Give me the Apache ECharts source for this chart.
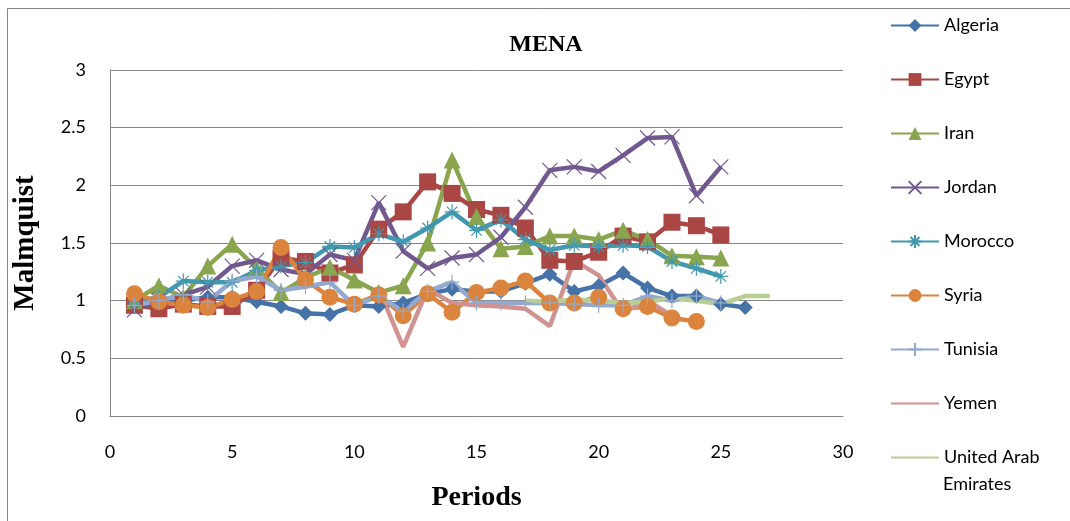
<!DOCTYPE html>
<html lang="en">
<head>
    <meta charset="UTF-8">
    <title>MENA</title>
    <script src="https://cdn.jsdelivr.net/npm/echarts@6/dist/echarts.min.js"></script>
    <style>
        body { padding: 0; margin: 0; background: #fff; }
        #chart { width: 1070px; height: 521px; }
    </style>
</head>
<body>
    <div id="chart"></div>

    <script>
        // periods 1..27, null = no observation
        const periods = [1,2,3,4,5,6,7,8,9,10,11,12,13,14,15,16,17,18,19,20,21,22,23,24,25,26,27];
        const algeria = [0.98,0.97,1.0,1.03,1.03,0.99,0.95,0.89,0.88,0.96,0.95,0.98,1.06,1.1,1.08,1.08,1.15,1.23,1.08,1.13,1.24,1.11,1.04,1.04,0.97,0.94,null];
        const egypt   = [0.96,0.93,0.97,0.95,0.95,1.09,1.37,1.34,1.24,1.31,1.62,1.77,2.03,1.93,1.79,1.74,1.63,1.35,1.34,1.42,1.56,1.51,1.68,1.65,1.57,null,null];
        const iran    = [1.0,1.13,1.03,1.3,1.49,1.28,1.07,1.2,1.29,1.18,1.07,1.13,1.5,2.22,1.73,1.45,1.47,1.56,1.56,1.53,1.61,1.53,1.39,1.38,1.37,null,null];
        const jordan  = [0.92,1.0,1.05,1.12,1.3,1.35,1.27,1.23,1.4,1.35,1.85,1.43,1.28,1.37,1.4,1.55,1.81,2.13,2.16,2.12,2.26,2.41,2.42,1.91,2.16,null,null];
        const morocco = [0.99,1.03,1.17,1.16,1.16,1.26,1.3,1.33,1.47,1.46,1.58,1.51,1.63,1.77,1.61,1.7,1.53,1.44,1.48,1.47,1.48,1.47,1.34,1.28,1.21,null,null];
        const syria   = [1.06,0.99,0.96,0.94,1.01,1.08,1.46,1.18,1.03,0.97,1.05,0.87,1.06,0.9,1.07,1.11,1.17,0.98,0.98,1.03,0.93,0.95,0.85,0.82,null,null,null];
        const tunisia = [0.96,1.0,1.05,0.99,1.17,1.21,1.09,1.12,1.16,0.96,1.04,0.91,1.08,1.16,0.98,0.98,0.98,0.98,0.97,0.96,0.96,1.04,1.0,1.04,0.98,null,null];
        const yemen   = [null,null,null,null,null,null,null,null,null,null,1.1,0.6,1.1,0.98,0.96,0.95,0.93,0.78,1.35,1.22,0.9,1.0,0.87,null,null,null,null];
        const uae     = [null,null,null,null,null,null,null,null,null,null,null,null,null,null,null,null,1.0,0.99,1.01,1.0,0.98,0.99,1.02,1.0,0.97,1.04,1.04];

        const xTicks = [0, 5, 10, 15, 20, 25, 30];
        const yTicks = [0, 0.5, 1, 1.5, 2, 2.5, 3];

        const X_PATH = 'path://M0,0 L10,10 M10,0 L0,10';
        const STAR_PATH = 'path://M5,0 L5,10 M0,5 L10,5 M1.5,1.5 L8.5,8.5 M8.5,1.5 L1.5,8.5';
        const PLUS_PATH = 'path://M5,0 L5,10 M0,5 L10,5';
        const NO_MARK = 'path://M0,0 L0,10 M10,0 L10,10'; // zero-area path, nothing visible

        function pairs(vals) {
            return periods.map((p, i) => [p, vals[i]]).filter(d => d[1] !== null);
        }

        function makeSeries(name, vals, color, symbol, size, stroked) {
            const noMark = symbol === NO_MARK;
            return {
                name: name,
                type: 'line',
                data: pairs(vals),
                symbol: symbol,
                symbolSize: size,
                showSymbol: !noMark,
                lineStyle: { color: color, width: 4.5 },
                itemStyle: stroked
                    ? { color: color, borderColor: color, borderWidth: 1.2 }
                    : { color: color, borderWidth: 0 },
                emphasis: { disabled: true }
            };
        }

        const chart = echarts.init(document.getElementById('chart'));
        chart.setOption({
            animation: false,
            backgroundColor: '#fff',
            title: {
                text: 'MENA',
                left: 541, top: 28, textAlign: 'center',
                textStyle: { fontFamily: 'Liberation Serif', fontWeight: 'bold', fontSize: 24, color: '#000' }
            },
            graphic: [{
                type: 'rect',
                shape: { x: 7.5, y: 8.5, width: 1080, height: 530 },
                style: { fill: 'none', stroke: '#868686', lineWidth: 1 },
                silent: true
            }, {
                type: 'text',
                left: 943, top: 475,
                style: { text: 'Emirates', fontFamily: 'Lato', fontSize: 18, fill: '#000' },
                silent: true
            }],
            legend: {
                orient: 'vertical',
                left: 890, top: 12, padding: 0,
                itemWidth: 48, itemHeight: 16, itemGap: 27,
                textStyle: { fontFamily: 'Lato', fontSize: 18, color: '#000', lineHeight: 27 },
                data: ['Algeria', 'Egypt', 'Iran', 'Jordan', 'Morocco', 'Syria', 'Tunisia', 'Yemen', 'United Arab Emirates'],
                formatter: n => n === 'United Arab Emirates' ? 'United Arab' : n
            },
            grid: { left: 110, top: 70, right: 227, bottom: 105 },
            xAxis: {
                type: 'value', min: xTicks[0], max: xTicks[xTicks.length - 1], interval: 5,
                name: 'Periods', nameLocation: 'middle', nameGap: 68,
                nameTextStyle: { fontFamily: 'Liberation Serif', fontWeight: 'bold', fontSize: 28, color: '#000' },
                axisLine: { lineStyle: { color: '#868686' } },
                axisTick: { show: false },
                splitLine: { show: false },
                axisLabel: { fontFamily: 'Lato', fontSize: 18, color: '#000', margin: 27 }
            },
            yAxis: {
                type: 'value', min: yTicks[0], max: yTicks[yTicks.length - 1], interval: 0.5,
                name: 'Malmquist', nameLocation: 'middle', nameGap: 70,
                nameTextStyle: { fontFamily: 'Liberation Serif', fontWeight: 'bold', fontSize: 29, color: '#000' },
                axisLine: { show: true, lineStyle: { color: '#868686' } },
                axisTick: { show: false },
                splitLine: { lineStyle: { color: '#868686', width: 1 } },
                axisLabel: { fontFamily: 'Lato', fontSize: 18, color: '#000', margin: 24 }
            },
            series: [
                makeSeries('Algeria', algeria, '#4572A7', 'diamond', 15, false),
                makeSeries('Egypt', egypt, '#AA4643', 'rect', 17, false),
                makeSeries('Iran', iran, '#89A54E', 'triangle', 17, false),
                makeSeries('Jordan', jordan, '#71588F', X_PATH, 15, true),
                makeSeries('Morocco', morocco, '#4198AF', STAR_PATH, 15, true),
                makeSeries('Syria', syria, '#DB843D', 'circle', 17, false),
                makeSeries('Tunisia', tunisia, '#93A9CF', PLUS_PATH, 15, true),
                makeSeries('Yemen', yemen, '#D19392', NO_MARK, 10, false),
                makeSeries('United Arab Emirates', uae, '#B9CD96', NO_MARK, 10, false)
            ]
        });
    </script>
</body>
</html>
